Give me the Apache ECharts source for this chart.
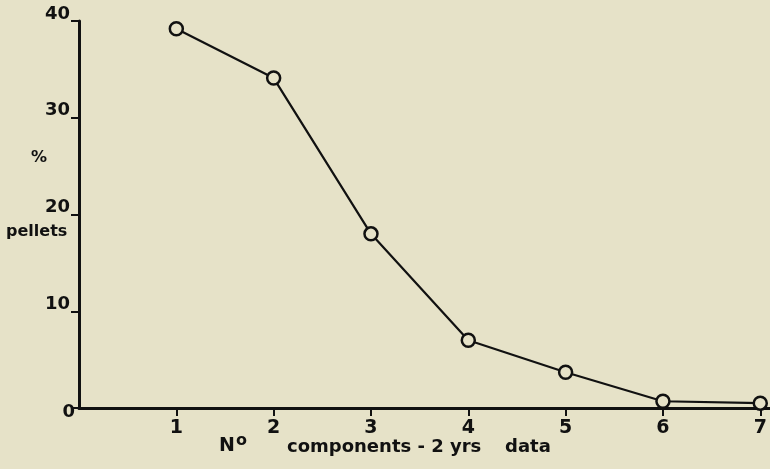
<!DOCTYPE html>
<html>
<head>
<meta charset="utf-8">
<script src="https://cdn.jsdelivr.net/npm/echarts@6/dist/echarts.min.js"></script>
<style>
html,body{margin:0;padding:0;background:#e6e2c8;}
#chart{width:770px;height:469px;}
</style>
</head>
<body>
<div id="chart"></div>
<script>
var components = [1, 2, 3, 4, 5, 6, 7];
var pelletsPct = [39.2, 34.1, 18.0, 7.0, 3.7, 0.7, 0.5];
var yTicks = [0, 10, 20, 30, 40];
var xTitleMain = 'components - 2 yrs';
var xTitleEnd = 'data';
var xTitleNo = 'N';
var yTitleTop = '%';
var yTitleBottom = 'pellets';

var FONT = 'DejaVu Sans';
var INK = '#111';
var BG = '#e6e2c8';

var chart = echarts.init(document.getElementById('chart'));
chart.setOption({
  backgroundColor: BG,
  animation: false,
  grid: {left: 79, right: 0, top: 21, bottom: 61},
  xAxis: {
    type: 'value', min: 0, max: 7.1, interval: 1,
    splitLine: {show: false},
    axisLine: {lineStyle: {color: INK, width: 3}},
    axisTick: {length: 8, lineStyle: {color: INK, width: 2}},
    axisLabel: {
      color: INK, fontFamily: FONT, fontWeight: 'bold', fontSize: 19, margin: 11,
      showMaxLabel: false, showMinLabel: false,
      formatter: function (v) { return components.indexOf(v) >= 0 ? String(v) : ''; }
    }
  },
  yAxis: {
    type: 'value', min: 0, max: 40, interval: 10,
    splitLine: {show: false},
    axisLine: {lineStyle: {color: INK, width: 3}},
    axisTick: {length: 8, lineStyle: {color: INK, width: 2}},
    axisLabel: {
      color: INK, fontFamily: FONT, fontWeight: 'bold', fontSize: 17, margin: 9,
      verticalAlign: 'middle',
      formatter: function (v) {
        return yTicks.indexOf(v) < 0 ? '' : (v === 0 ? '{z|0}' : '{n|' + v + '}');
      },
      rich: {
        n: {fontFamily: FONT, fontWeight: 'bold', fontSize: 18, color: INK, padding: [0, 0, 14, 0]},
        z: {fontFamily: FONT, fontWeight: 'bold', fontSize: 18, color: INK, padding: [9, -5, 0, 0]}
      }
    }
  },
  series: [{
    type: 'line',
    data: components.map(function (c, i) { return [c, pelletsPct[i]]; }),
    symbol: 'circle', symbolSize: 13,
    lineStyle: {color: INK, width: 2.2},
    itemStyle: {color: BG, borderColor: INK, borderWidth: 2.5},
    z: 5
  }],
  graphic: [
    {type: 'text', left: 31, top: 150, style: {text: yTitleTop, font: 'bold 16px "DejaVu Sans"', fill: INK}},
    {type: 'text', left: 6, top: 224, style: {text: yTitleBottom, font: 'bold 16px "DejaVu Sans"', fill: INK}},
    {type: 'text', left: 219, top: 437, style: {text: xTitleNo, font: 'bold 19px "DejaVu Sans"', fill: INK}},
    {type: 'text', left: 236, top: 433, style: {text: 'o', font: 'bold 16px "DejaVu Sans"', fill: INK}},
    {type: 'text', left: 287, top: 438, style: {text: xTitleMain, font: 'bold 18px "DejaVu Sans"', fill: INK}},
    {type: 'text', left: 505, top: 438, style: {text: xTitleEnd, font: 'bold 18px "DejaVu Sans"', fill: INK}}
  ]
});
</script>
</body>
</html>
